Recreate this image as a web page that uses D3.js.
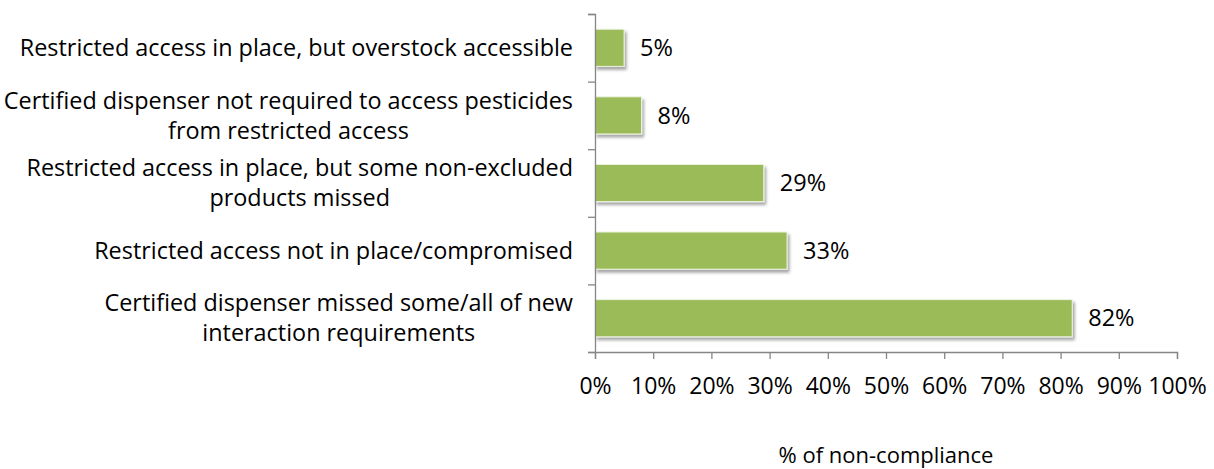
<!DOCTYPE html>
<html><head><meta charset="utf-8">
<script src="https://cdn.jsdelivr.net/npm/d3@7"></script>
<style>body{margin:0;background:#fff}svg{display:block}text{font-family:"Open Sans",sans-serif;fill:#000}</style>
</head><body><svg id="c" width="1214" height="469"></svg>
<script>
const categories = [
  ["Restricted access in place, but overstock accessible"],
  ["Certified dispenser not required to access pesticides", "from restricted access"],
  ["Restricted access in place, but some non-excluded", "products missed"],
  ["Restricted access not in place/compromised"],
  ["Certified dispenser missed some/all of new", "interaction requirements"]
];
const values = [5, 8, 29, 33, 82];
const xTicks = [0,10,20,30,40,50,60,70,80,90,100];
const axisTitle = "% of non-compliance";

(function(){
const svg = d3.select("#c");
const L = 595, R = 1177, T = 14, B = 352;
const x = d3.scaleLinear().domain([0,100]).range([L,R]);
const y = d3.scaleBand().domain(d3.range(categories.length)).range([T,B]).paddingInner(0.45).paddingOuter(0.225);

const defs = svg.append("defs");
const f = defs.append("filter").attr("id","sh").attr("x","-10%").attr("y","-20%").attr("width","130%").attr("height","160%");
f.append("feGaussianBlur").attr("in","SourceAlpha").attr("stdDeviation",1.6);
f.append("feOffset").attr("dx",2).attr("dy",3).attr("result","o");
f.append("feComponentTransfer").append("feFuncA").attr("type","linear").attr("slope",0.35);
const m = f.append("feMerge"); m.append("feMergeNode"); m.append("feMergeNode").attr("in","SourceGraphic");

svg.append("g").selectAll("rect").data(values).join("rect")
  .attr("x", x(0)).attr("y",(d,i)=>y(i)).attr("width",d=>x(d)-x(0)).attr("height",y.bandwidth())
  .attr("fill","#9bbb59").attr("stroke","#eef3e3").attr("stroke-width",1).attr("filter","url(#sh)");

svg.append("g").selectAll("text").data(values).join("text")
  .attr("x",d=>x(d)+16).attr("y",(d,i)=>y(i)+y.bandwidth()/2).attr("dy","0.35em")
  .style("font-size","23.5px").text(d=>d+"%");

const yb = d3.scaleLinear().domain([0,categories.length]).range([T,B]);
const ya = svg.append("g").attr("transform",`translate(${L},0)`).call(d3.axisLeft(yb).tickValues(d3.range(categories.length+1)).tickSize(7).tickFormat(""));
ya.select(".domain").attr("stroke","#868686").attr("stroke-width",1.3);
ya.selectAll(".tick line").attr("stroke","#868686").attr("stroke-width",1.3);

const xa = svg.append("g").attr("transform",`translate(0,${B})`).call(d3.axisBottom(x).tickValues(xTicks).tickSize(7).tickPadding(19).tickFormat(d=>d+"%"));
xa.select(".domain").attr("stroke","#868686").attr("stroke-width",1.3);
xa.selectAll(".tick line").attr("stroke","#868686").attr("stroke-width",1.3);
xa.selectAll(".tick text").style("font-size","23px").style("font-family","'Open Sans', sans-serif").attr("fill","#000");

const lg = svg.append("g");
categories.forEach((lines,i)=>{
  const cy = y(i)+y.bandwidth()/2;
  const lh = 30;
  const t = lg.append("text").attr("text-anchor", lines.length>1 ? "middle" : "end").style("font-size","23.4px");
  lines.forEach((ln,j)=>{
    t.append("tspan").attr("x", 573).attr("y", cy + (j-(lines.length-1)/2)*lh).attr("dy","0.35em").text(ln);
  });
});

svg.append("text").attr("x",(L+R)/2).attr("y",455).attr("text-anchor","middle").attr("dy","0.35em").style("font-size","22px").text(axisTitle);

lg.selectAll("text").each(function(){
  const t = d3.select(this);
  const spans = t.selectAll("tspan");
  if (spans.size()>1){
    let w = 0; spans.each(function(){w=Math.max(w,this.getComputedTextLength());});
    spans.attr("x", 573 - w/2);
  }
});
})();
</script></body></html>
